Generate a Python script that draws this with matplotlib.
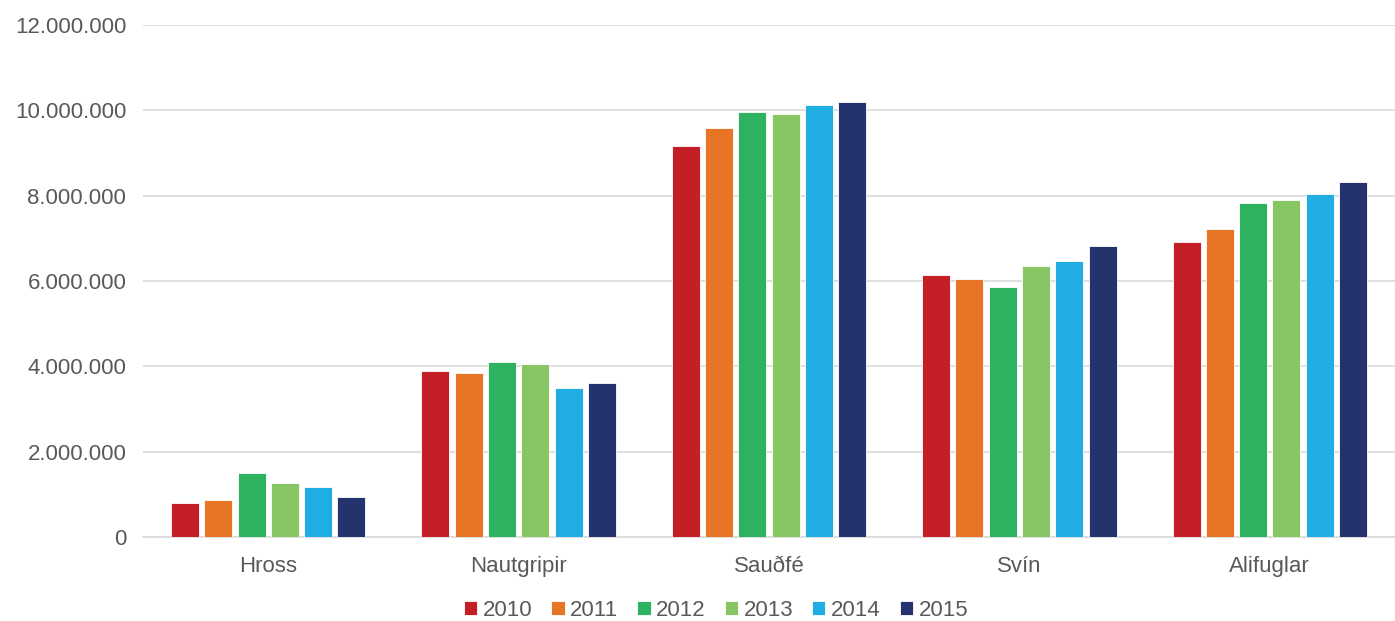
import matplotlib
matplotlib.use("Agg")
import matplotlib.pyplot as plt
import numpy as np
from matplotlib.ticker import FuncFormatter

categories = ["Hross", "Nautgripir", "Sauðfé", "Svín", "Alifuglar"]
years = ["2010", "2011", "2012", "2013", "2014", "2015"]
v2010 = [790000, 3880000, 9160000, 6150000, 6910000]
v2011 = [860000, 3850000, 9590000, 6040000, 7230000]
v2012 = [1500000, 4090000, 9950000, 5860000, 7830000]
v2013 = [1270000, 4050000, 9910000, 6350000, 7910000]
v2014 = [1180000, 3490000, 10120000, 6460000, 8040000]
v2015 = [940000, 3600000, 10190000, 6810000, 8330000]
series = [v2010, v2011, v2012, v2013, v2014, v2015]
colors = ["#C41F26", "#E87425", "#2DB360", "#88C663", "#20ADE3", "#24326E"]

plt.rcParams['font.family'] = ['Liberation Sans', 'DejaVu Sans']

fig = plt.figure(figsize=(13.95, 6.21), dpi=100)
ax = fig.add_axes([143/1395, (621-537)/621, (1395-143)/1395, 512/621])

x = np.arange(len(categories))
slot = 0.133
for i, (vals, c, yr) in enumerate(zip(series, colors, years)):
    ax.bar(x + (i - 2.5) * slot, vals, width=slot * 0.84, color=c, edgecolor="white",
           linewidth=0.6, label=yr, zorder=3)

ax.set_xlim(-0.5, len(categories) - 0.5)
ax.set_ylim(0, 12000000)
ax.set_yticks(np.arange(0, 12000001, 2000000))
ax.yaxis.set_major_formatter(FuncFormatter(lambda v, p: f"{int(v):,}".replace(",", ".")))
ax.grid(axis="y", color="#D9D9D9", linewidth=1.2, zorder=0)
for s in ["top", "right", "left"]:
    ax.spines[s].set_visible(False)
ax.spines["bottom"].set_color("#D9D9D9")
ax.spines["bottom"].set_linewidth(1.2)
ax.set_xticks(x)
ax.set_xticklabels(categories)
ax.tick_params(axis="both", length=0, labelsize=16, labelcolor="#595959")
ax.tick_params(axis="x", pad=14)
ax.tick_params(axis="y", pad=12)

leg = fig.legend(loc="center", bbox_to_anchor=(716/1395, 1 - 610/621), ncol=6, frameon=False,
                 fontsize=16, handlelength=0.6, handleheight=0.6, handletextpad=0.25,
                 columnspacing=0.85, labelcolor="#595959")

fig.savefig("out.png", dpi=100, facecolor="white")
